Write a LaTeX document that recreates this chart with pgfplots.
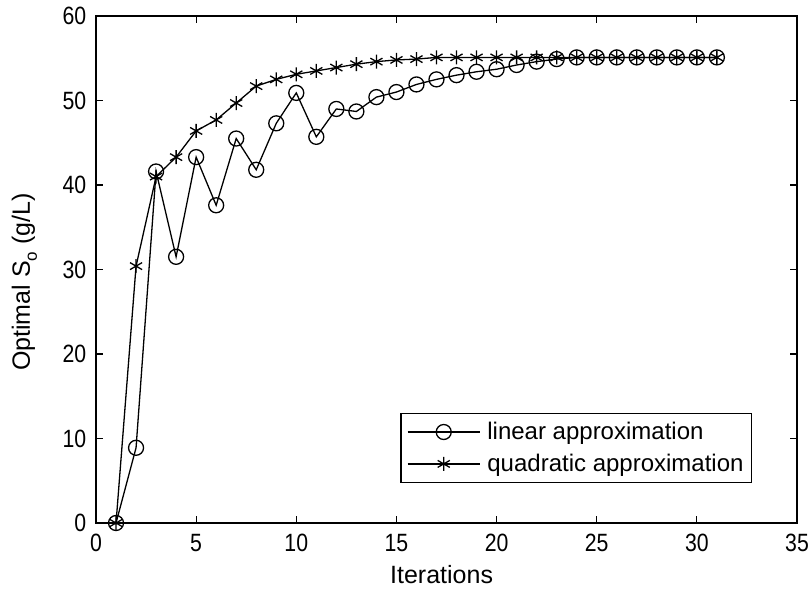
\documentclass[border=0pt]{standalone}
\usepackage{fontspec}
\setmainfont{Liberation Sans}
\newfontfamily\tickfont{Liberation Sans}[FakeStretch=0.85]
\usepackage{pgfplots}
\pgfplotsset{compat=1.18}
\newcommand{\ff}{\fontsize{24}{28}\selectfont}
\newcommand{\lf}{\fontsize{25}{29}\selectfont}
\newcommand{\tf}{\tickfont\fontsize{25}{29}\selectfont}
\begin{document}
\begin{tikzpicture}
\path[use as bounding box] (-96pt,-68pt) rectangle (715pt,523pt);
\begin{axis}[
  at={(0pt,0pt)}, anchor=origin,
  scale only axis, width=701pt, height=507pt,
  xmin=0, xmax=35, ymin=0, ymax=60,
  xtick={0,5,...,35}, ytick={0,10,...,60},
  /pgf/number format/assume math mode=true,
  tick label style={font=\tf},
  xticklabel style={inner sep=0pt, yshift=-11pt},
  yticklabel style={inner sep=0pt, xshift=-9.5pt},
  major tick length=7pt,
  tick style={black, line width=1.2pt},
  axis line style={line width=1.3pt},
  xlabel={Iterations},
  ylabel={Optimal S\raisebox{-7pt}{\fontsize{17}{19}\selectfont o} (g/L)},
  label style={font=\lf},
  xlabel style={at={(axis description cs:0.493,-0.119)}, anchor=base, inner sep=0pt},
  ylabel style={at={(axis description cs:-0.102,0.475)}, anchor=center, inner sep=0pt},
  legend style={at={(0.936,0.079)}, anchor=south east, font=\ff, draw=black, line width=1.2pt,
    inner xsep=6pt, inner ysep=7pt, row sep=9pt, cells={anchor=west},
    /tikz/every odd column/.append style={column sep=5pt}},
  legend image code/.code={\draw[mark repeat=2,mark phase=2] plot coordinates {(0pt,0pt) (36pt,0pt) (72pt,0pt)};},
]
\addplot[black, line width=1.3pt, mark=o, mark size=7.5pt, mark options={line width=1.3pt}] coordinates {
(1,0) (2,8.9) (3,41.6) (4,31.5) (5,43.3) (6,37.6) (7,45.5) (8,41.8) (9,47.3) (10,50.9)
(11,45.7) (12,49.0) (13,48.7) (14,50.4) (15,51.0) (16,51.9) (17,52.5) (18,53.0) (19,53.4) (20,53.7)
(21,54.2) (22,54.6) (23,54.9) (24,55.1) (25,55.1) (26,55.1) (27,55.1) (28,55.1) (29,55.1) (30,55.1) (31,55.1)
};
\addlegendentry{linear approximation}
\addplot[black, line width=1.3pt, mark=asterisk, mark size=7pt, mark options={line width=1.3pt}] coordinates {
(1,0) (2,30.4) (3,41.0) (4,43.3) (5,46.4) (6,47.7) (7,49.7) (8,51.7) (9,52.5) (10,53.1)
(11,53.5) (12,53.9) (13,54.3) (14,54.6) (15,54.8) (16,54.9) (17,55.1) (18,55.1) (19,55.1) (20,55.1)
(21,55.1) (22,55.1) (23,55.1) (24,55.1) (25,55.1) (26,55.1) (27,55.1) (28,55.1) (29,55.1) (30,55.1) (31,55.1)
};
\addlegendentry{quadratic approximation}
\end{axis}
\end{tikzpicture}
\end{document}
